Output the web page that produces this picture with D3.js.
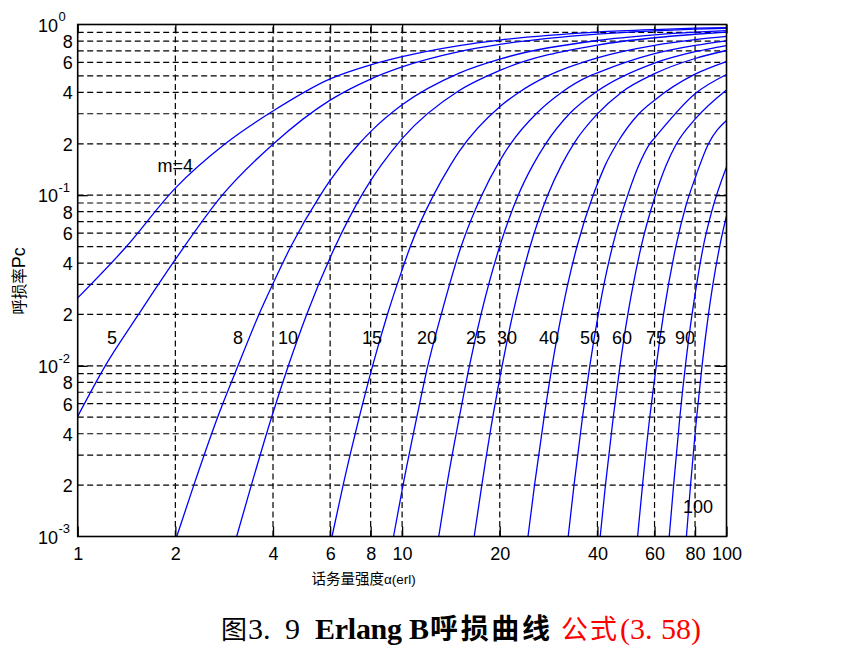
<!DOCTYPE html>
<html>
<head>
<meta charset="utf-8">
<script src="https://cdn.jsdelivr.net/npm/d3@7"></script>
<style>
  body { margin: 0; background: #ffffff; }
  svg { display: block; }
</style>
</head>
<body>
<svg id="chart" width="854" height="652"></svg>
<script>
// ---------------- DATA ----------------
// Erlang B blocking curves: each point is [traffic a (erl), blocking probability Pc]
const curveM4   = [[1,0.025],[1.4,0.049],[2,0.11],[2.85,0.2],[4,0.311],[6,0.48],[8,0.58],[10,0.648],[15,0.753],[20,0.811],[40,0.903],[60,0.934],[80,0.951],[100,0.960]];
const curveM5   = [[1,0.00506],[1.216,0.01],[1.54,0.02],[2,0.042],[2.79,0.1],[4,0.199],[6,0.3604],[8,0.479],[10,0.564],[15,0.6932],[20,0.7644],[40,0.8784],[60,0.9181],[80,0.9383],[100,0.9505]];
const curveM8   = [[2.02,0.001],[2.28,0.002],[2.70,0.005],[3.12,0.01],[3.62,0.02],[3.99,0.03],[4.54,0.05],[5.60,0.1],[6,0.1219],[7.37,0.2],[8,0.2356],[10,0.3383],[15,0.5193],[20,0.627],[40,0.8058],[60,0.8691],[80,0.9014],[100,0.9209]];
const curveM10  = [[3.09,0.001],[3.43,0.002],[3.96,0.005],[4.46,0.01],[5.08,0.02],[6.22,0.05],[7.51,0.1],[8,0.1217],[8.62,0.15],[10,0.2146],[15,0.4103],[20,0.538],[40,0.7577],[60,0.8365],[80,0.8767],[100,0.9011]];
const curveM15  = [[6.08,0.001],[6.58,0.002],[7.38,0.005],[8.11,0.01],[9.01,0.02],[10,0.0365],[10.6,0.05],[12.5,0.1],[14.1,0.15],[15,0.1803],[20,0.330],[22.9,0.4],[28.1,0.5],[40,0.6384],[60,0.7553],[80,0.8153],[100,0.8517]];
const curveM20  = [[9.41,0.001],[10,0.00187],[11.1,0.005],[12.0,0.01],[13.2,0.02],[15.2,0.05],[17.6,0.1],[20,0.1589],[21.6,0.2],[25.9,0.3],[31.0,0.4],[37.9,0.5],[40,0.5213],[60,0.6745],[80,0.754],[100,0.8024]];
const curveM25  = [[12.97,0.001],[13.74,0.002],[15.01,0.005],[16.13,0.01],[17.51,0.02],[20,0.0502],[22.8,0.1],[25.3,0.15],[27.7,0.2],[32.8,0.3],[40,0.4076],[60,0.5943],[80,0.6929],[100,0.7532]];
const curveM30  = [[16.68,0.001],[17.61,0.002],[19.03,0.005],[20,0.00846],[20.34,0.01],[21.93,0.02],[24.8,0.05],[28.1,0.1],[31.0,0.15],[33.8,0.2],[40,0.2993],[47.4,0.4],[60,0.5149],[80,0.6321],[100,0.7041]];
const curveM40  = [[24.44,0.001],[25.6,0.002],[27.4,0.005],[29.0,0.01],[31.0,0.02],[32.4,0.03],[34.6,0.05],[38.8,0.1],[40,0.1162],[42.3,0.15],[45.9,0.2],[53.7,0.3],[60,0.3602],[80,0.5115],[100,0.6063]];
const curveM50  = [[32.51,0.001],[33.88,0.002],[35.98,0.005],[37.9,0.01],[40,0.0187],[41.9,0.03],[44.5,0.05],[49.6,0.1],[53.7,0.15],[58.0,0.2],[60,0.2161],[80,0.3931],[100,0.5093]];
const curveM60  = [[40.8,0.001],[42.35,0.002],[44.76,0.005],[46.95,0.01],[49.64,0.02],[51.6,0.03],[54.57,0.05],[60,0.0963],[65.2,0.15],[70.1,0.2],[80,0.2788],[100,0.4135]];
const curveM75  = [[53.2,0.001],[55.1,0.002],[58.0,0.005],[60,0.00833],[60.73,0.01],[63.95,0.02],[69.8,0.05],[75,0.087],[80,0.1256],[88,0.2],[100,0.274]];
const curveM90  = [[66.6,0.001],[68.7,0.002],[71.8,0.005],[74.7,0.01],[78.3,0.02],[80,0.0262],[84.8,0.05],[90,0.08],[100,0.1461]];
const curveM100 = [[75.24,0.001],[77.47,0.002],[80,0.00399],[80.91,0.005],[84.06,0.01],[87.97,0.02],[95.24,0.05],[100,0.0757]];

const curves = [curveM4, curveM5, curveM8, curveM10, curveM15, curveM20, curveM25,
                curveM30, curveM40, curveM50, curveM60, curveM75, curveM90, curveM100];

// Curve labels and where they sit (in data units: a, Pc)
const curveLabels   = ["m=4","5","8","10","15","20","25","30","40","50","60","75","90","100"];
const labelAnchorA  = [2.0, 1.276, 3.12, 4.45, 8.08, 11.93, 16.9, 21.06, 28.37, 37.96, 47.63, 60.64, 74.5, 81.7];
const labelAnchorPc = [0.15, 0.0146, 0.0146, 0.0146, 0.0146, 0.0146, 0.0146, 0.0146, 0.0146, 0.0146, 0.0146, 0.0146, 0.0146, 0.00149];

// Axes ticks
const xTickValues = [1, 2, 4, 6, 8, 10, 20, 40, 60, 80, 100];
const xGridValues = [2, 4, 6, 8, 10, 20, 40, 60, 80];
const yTickValues = [0.001, 0.002, 0.004, 0.006, 0.008, 0.01, 0.02, 0.04, 0.06, 0.08, 0.1, 0.2, 0.4, 0.6, 0.8, 1];
const yTickLabels = ["10^-3","2","4","6","8","10^-2","2","4","6","8","10^-1","2","4","6","8","10^0"];
const yGridValues = [0.002,0.003,0.004,0.005,0.006,0.007,0.008,0.009,
                     0.01,0.02,0.03,0.04,0.05,0.06,0.07,0.08,0.09,
                     0.1,0.2,0.3,0.4,0.5,0.6,0.7,0.8,0.9];
const yDecades = [0.01, 0.1];

const xAxisTitleCJK = "话务量强度";
const xAxisTitleLatin = "α(erl)";
const yAxisTitleCJK = "呼损率";
const yAxisTitleLatin = "Pc";

// ---------------- DRAWING ----------------
const svg = d3.select("#chart");
const SANS = "'Liberation Sans', Arial, sans-serif";
const CJK = "'Noto Sans CJK SC', sans-serif";
const SERIF = "'Liberation Serif', 'Times New Roman', serif";
const FS = 18;

const x = d3.scaleLog().domain([1, 100]).range([77.7, 726.5]);
const y = d3.scaleLog().domain([1e-3, 1]).range([536.5, 24.5]);
const [x0, x1] = x.range();
const [yb, yt] = y.range();

svg.append("rect").attr("width", 854).attr("height", 652).attr("fill", "#fff");

// clip
svg.append("clipPath").attr("id", "plotclip")
  .append("rect").attr("x", x0).attr("y", yt).attr("width", x1 - x0).attr("height", yb - yt);

// grid
const grid = svg.append("g").attr("stroke", "#000").attr("stroke-width", 1.2)
  .attr("stroke-dasharray", "6,3.5").attr("fill", "none");
grid.selectAll("line.h").data(yGridValues).join("line").attr("class", "h")
  .attr("x1", x0).attr("x2", x1).attr("y1", d => y(d)).attr("y2", d => y(d));
grid.selectAll("line.v").data(xGridValues).join("line").attr("class", "v")
  .attr("x1", d => x(d)).attr("x2", d => x(d)).attr("y1", yb).attr("y2", yt);

// curves
const line = d3.line().x(d => x(d[0])).y(d => y(d[1])).curve(d3.curveMonotoneX);
svg.append("g").attr("clip-path", "url(#plotclip)")
  .selectAll("path").data(curves).join("path")
  .attr("d", line).attr("fill", "none").attr("stroke", "#0000ff").attr("stroke-width", 1.3);

// x axis (bottom) with inward ticks
const xAxis = d3.axisBottom(x).tickValues(xTickValues).tickFormat(d3.format("d"))
  .tickSizeInner(-10).tickSizeOuter(0).tickPadding(10.5);
const gx = svg.append("g").attr("transform", `translate(0,${yb})`).call(xAxis);
gx.select(".domain").remove();
gx.selectAll(".tick line").attr("stroke", "#000").attr("stroke-width", 1.3);
gx.selectAll(".tick text").attr("font-family", SANS).attr("font-size", FS).attr("fill", "#000");

// x axis top ticks
const gxt = svg.append("g").attr("transform", `translate(0,${yt})`)
  .call(d3.axisTop(x).tickValues(xTickValues).tickFormat("").tickSizeInner(-9).tickSizeOuter(0));
gxt.select(".domain").remove();
gxt.selectAll(".tick line").attr("stroke", "#000").attr("stroke-width", 1.3);

// y axis (left) with labels
const gy = svg.append("g").attr("transform", `translate(${x0},0)`)
  .call(d3.axisLeft(y).tickValues(yTickValues).tickFormat("").tickSizeInner(-10).tickSizeOuter(0));
gy.select(".domain").remove();
gy.selectAll(".tick line").attr("stroke", "#000").attr("stroke-width", 1.3)
  .attr("x2", d => yDecades.includes(d) ? 10 : 0);
gy.selectAll(".tick").each(function(d, i) {
  const t = d3.select(this).select("text");
  const lab = yTickLabels[i];
  t.text(null).attr("dy", null).attr("fill", "#000").attr("font-family", SANS);
  if (lab.includes("^")) {
    const [base, exp] = lab.split("^");
    t.attr("text-anchor", "start").attr("x", 38 - x0).attr("y", 6.8);
    t.append("tspan").attr("font-size", FS).text(base);
    t.append("tspan").attr("font-size", 13).attr("dx", 0.5).attr("dy", -10.5).text(exp);
  } else {
    t.attr("text-anchor", "end").attr("x", 72.8 - x0).attr("y", 6.3).attr("font-size", FS).text(lab);
  }
});

// y axis right ticks (decades)
const gyr = svg.append("g").attr("transform", `translate(${x1},0)`)
  .call(d3.axisRight(y).tickValues(yDecades).tickFormat("").tickSizeInner(-11).tickSizeOuter(0));
gyr.select(".domain").remove();
gyr.selectAll(".tick line").attr("stroke", "#000").attr("stroke-width", 1.3);

// frame
svg.append("rect").attr("x", x0).attr("y", yt).attr("width", x1 - x0).attr("height", yb - yt)
  .attr("fill", "none").attr("stroke", "#000").attr("stroke-width", 1.6);

// curve labels
svg.append("g").selectAll("text").data(curveLabels).join("text")
  .attr("x", (d, i) => x(labelAnchorA[i]))
  .attr("y", (d, i) => y(labelAnchorPc[i]) + 6.5)
  .attr("text-anchor", "middle")
  .attr("font-family", SANS).attr("font-size", FS).attr("fill", "#000")
  .text(d => d);

// x axis title
const xt = svg.append("text").attr("x", 311.5).attr("y", 584).attr("fill", "#000");
xt.append("tspan").attr("font-family", CJK).attr("font-size", 14.5).text(xAxisTitleCJK);
xt.append("tspan").attr("font-family", SANS).attr("font-size", 13.5).text(xAxisTitleLatin);

// y axis title (rotated)
const yt2 = svg.append("text").attr("transform", "translate(24.5,281) rotate(-90)")
  .attr("text-anchor", "middle").attr("fill", "#000");
yt2.append("tspan").attr("font-family", CJK).attr("font-size", 15.5).text(yAxisTitleCJK);
yt2.append("tspan").attr("font-family", SANS).attr("font-size", 18).text(yAxisTitleLatin);

// figure caption
const capY = 639;
const caption = svg.append("g");
caption.append("text").attr("x", 221).attr("y", capY)
  .attr("font-family", CJK).attr("font-size", 26).attr("fill", "#000").text("图");
caption.append("text").attr("x", 248).attr("y", capY)
  .attr("font-family", SERIF).attr("font-size", 30).attr("fill", "#000").text("3.");
caption.append("text").attr("x", 285).attr("y", capY)
  .attr("font-family", SERIF).attr("font-size", 30).attr("fill", "#000").text("9");
caption.append("text").attr("x", 315).attr("y", capY)
  .attr("font-family", SERIF).attr("font-weight", "bold").attr("font-size", 30).attr("fill", "#000")
  .attr("textLength", 114).attr("lengthAdjust", "spacing").text("Erlang B");
caption.append("text").attr("x", 430).attr("y", capY)
  .attr("font-family", CJK).attr("font-weight", "bold").attr("font-size", 28).attr("fill", "#000")
  .attr("textLength", 120).attr("lengthAdjust", "spacing").text("呼损曲线");
caption.append("text").attr("x", 561).attr("y", capY)
  .attr("font-family", CJK).attr("font-size", 27).attr("fill", "#ff0000")
  .attr("textLength", 56).attr("lengthAdjust", "spacing").text("公式");
caption.append("text").attr("x", 620).attr("y", capY)
  .attr("font-family", SERIF).attr("font-size", 30).attr("fill", "#ff0000").text("(3.");
caption.append("text").attr("x", 661).attr("y", capY)
  .attr("font-family", SERIF).attr("font-size", 30).attr("fill", "#ff0000").text("58)");
</script>
</body>
</html>
